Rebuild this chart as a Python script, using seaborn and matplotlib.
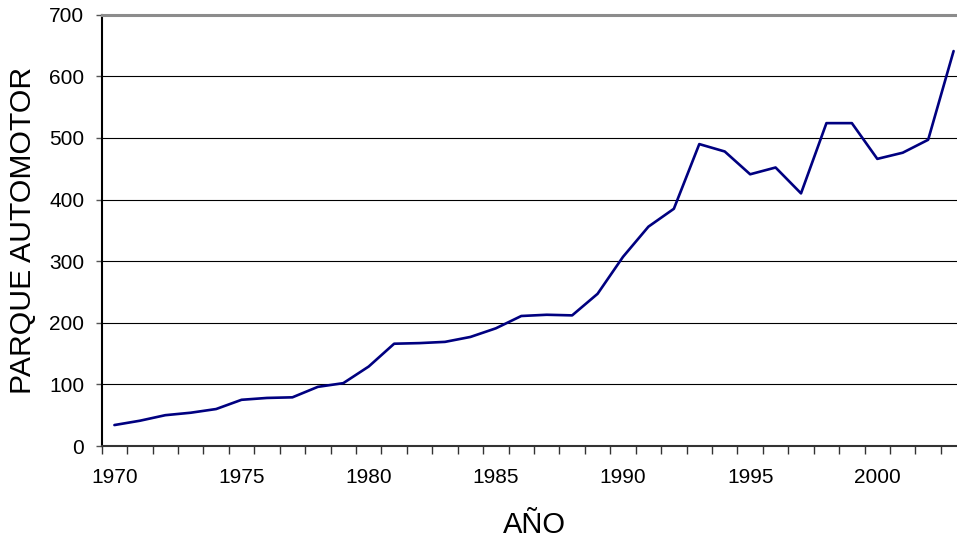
import numpy as np
import pandas as pd
import seaborn as sns
import matplotlib.pyplot as plt
from matplotlib.ticker import MultipleLocator, FixedLocator

# data
years = list(range(1970, 2004))
parque = [34, 41, 50, 54, 60, 75, 78, 79, 96, 102,
          129, 166, 167, 169, 177, 191, 211, 213, 212, 247,
          307, 356, 385, 490, 478, 441, 452, 410, 524, 524,
          466, 476, 497, 641]

df = pd.DataFrame({"year": years, "parque": parque})

sns.set_theme(style="white")
plt.rcParams['font.family'] = ['Liberation Sans', 'DejaVu Sans']

W, H = 957, 543
fig = plt.figure(figsize=(W / 100, H / 100), dpi=100)
# plot area runs past the right edge of the image, as in the reference
left, right, top, bottom = 101.7, 966.3, 14.7, 446.0
ax = fig.add_axes([left / W, (H - bottom) / H, (right - left) / W, (bottom - top) / H])

sns.lineplot(data=df, x="year", y="parque", ax=ax, color="#000080",
             linewidth=1.9, clip_on=False)

ax.set_xlim(1969.5, 2003.5)
ax.set_ylim(0, 700)

# horizontal gridlines
ax.yaxis.set_major_locator(MultipleLocator(100))
ax.grid(axis="y", color="black", linewidth=0.8)
ax.grid(axis="x", visible=False)

# x ticks between categories, labels every five years
ax.xaxis.set_major_locator(FixedLocator([1970, 1975, 1980, 1985, 1990, 1995, 2000]))
ax.xaxis.set_minor_locator(FixedLocator(np.arange(1969.5, 2004, 1)))
ax.tick_params(axis="x", which="major", length=0, pad=16, labelsize=15, labelcolor="black")
ax.tick_params(axis="x", which="minor", bottom=True, length=5.5, width=1, color="#333333", direction="out")
ax.tick_params(axis="y", which="major", left=True, length=4.5, width=1, color="#555555",
               direction="out", pad=8, labelsize=15, labelcolor="black")

for s in ["left", "bottom", "top", "right"]:
    ax.spines[s].set_visible(True)
ax.spines["left"].set_color("black")
ax.spines["left"].set_linewidth(1.5)
ax.spines["bottom"].set_color("#333333")
ax.spines["bottom"].set_linewidth(1.5)
ax.spines["top"].set_color("#8c8c8c")
ax.spines["top"].set_linewidth(2.2)
ax.spines["right"].set_visible(False)

ax.set_xlabel("AÑO", fontsize=21, color="black")
ax.set_ylabel("PARQUE AUTOMOTOR", fontsize=21.7, color="black")
# titles sit where the reference puts them (figure pixels -> axes fraction)
ax.xaxis.set_label_coords(0.5, (bottom - 525) / (bottom - top), transform=ax.transAxes)
ax.xaxis.label.set_va("center")
ax.yaxis.set_label_coords((23 - left) / (right - left), (bottom - 230.5) / (bottom - top))
ax.yaxis.label.set_va("center")

fig.savefig("out.png", dpi=100, facecolor="white")
